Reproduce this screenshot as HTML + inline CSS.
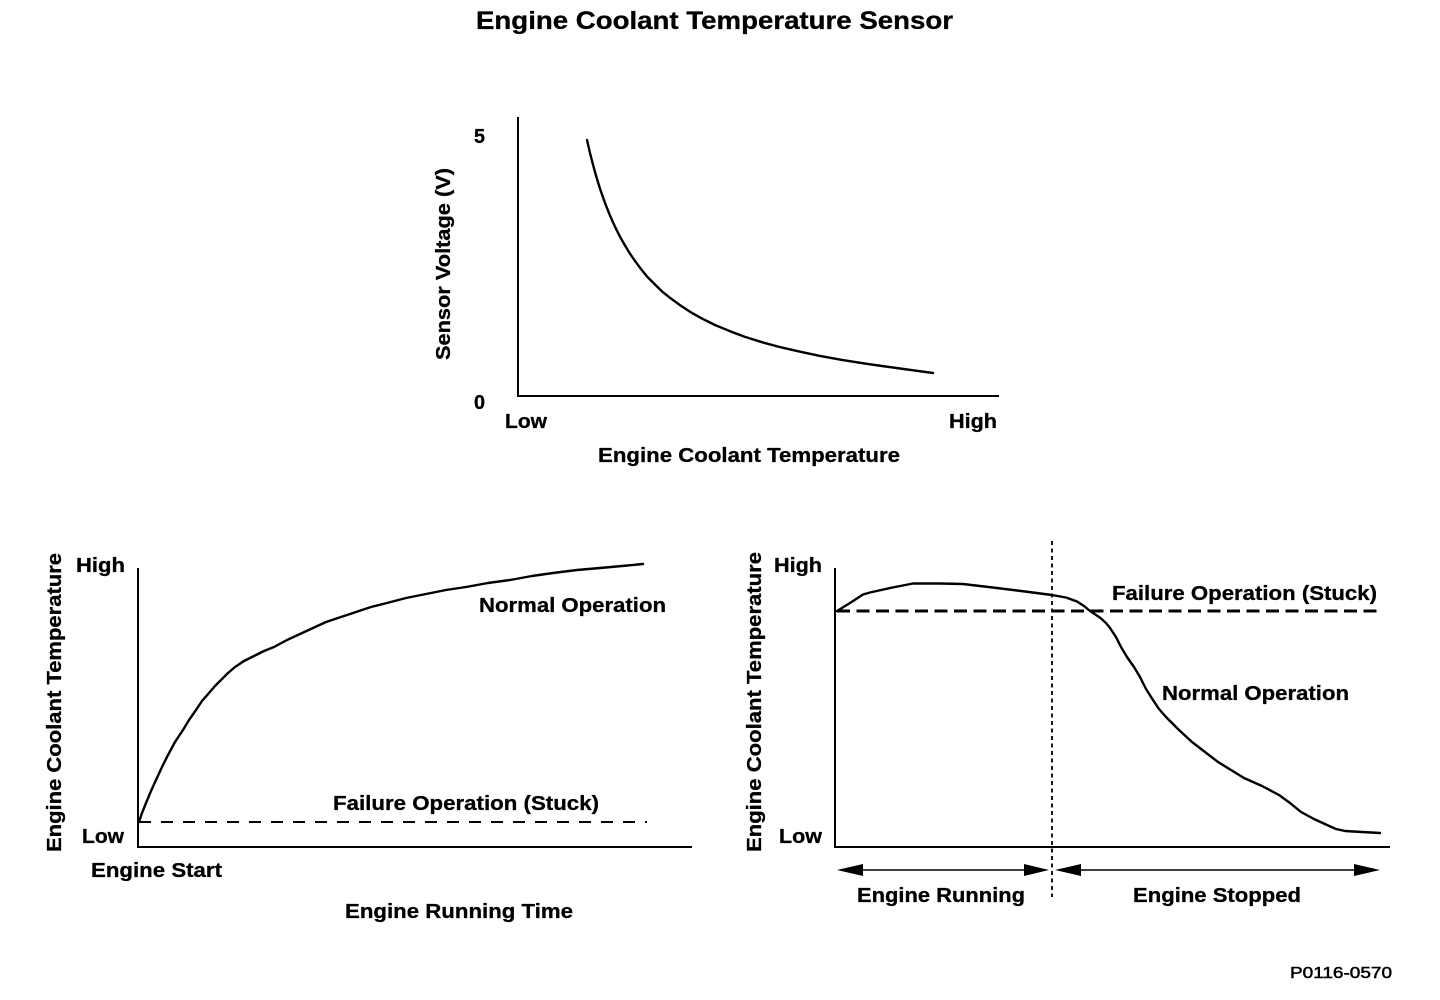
<!DOCTYPE html>
<html>
<head>
<meta charset="utf-8">
<style>
  html, body { margin: 0; padding: 0; background: #ffffff; }
  body { width: 1440px; height: 1000px; overflow: hidden; }
  svg { display: block; }
  text { font-family: "Liberation Sans", Arial, Helvetica, sans-serif; fill: #000; stroke: #000; stroke-width: 0.3px; }
  .b { font-weight: bold; font-size: 20.5px; }
  .t { font-weight: bold; font-size: 25px; }
  .c { font-weight: normal; font-size: 16px; stroke-width: 0.5px; }
</style>
</head>
<body>
<svg width="1440" height="1000" viewBox="0 0 1440 1000" xmlns="http://www.w3.org/2000/svg">
  <rect x="0" y="0" width="1440" height="1000" fill="#fff"/>

  <!-- Title -->
  <text class="t" x="476" y="29" textLength="477" lengthAdjust="spacingAndGlyphs">Engine Coolant Temperature Sensor</text>

  <!-- ============ TOP CHART ============ -->
  <line x1="518" y1="117" x2="518" y2="397" stroke="#000" stroke-width="2"/>
  <line x1="517" y1="396" x2="999" y2="396" stroke="#000" stroke-width="2"/>
  <polyline fill="none" stroke="#000" stroke-width="2.4" stroke-linejoin="round" stroke-linecap="round"
    points="587,140 588.5,146.5 590,153 592.5,162.8 595,172.1 597.5,180.6 600,188.6 603,197.3 606,205.6 609.5,214.3 613,222.4 616.5,229.8 620,236.7 625,245.5 630,253.7 635,261 640,267.7 647,276.5 655,284.5 662,291.4 670,297.8 680,305.1 690,311.8 702,318.6 715,325 730,331.2 745,336.9 762,342.2 780,347.1 800,351.7 820,355.9 842,359.9 865,363.6 882,366 900,368.5 916,370.7 933,373"/>
  <text class="b" x="474" y="143" textLength="11" lengthAdjust="spacingAndGlyphs">5</text>
  <text class="b" x="474" y="409" textLength="11" lengthAdjust="spacingAndGlyphs">0</text>
  <text class="b" x="505" y="428" textLength="42" lengthAdjust="spacingAndGlyphs">Low</text>
  <text class="b" x="949" y="428" textLength="48" lengthAdjust="spacingAndGlyphs">High</text>
  <text class="b" x="598" y="462" textLength="302" lengthAdjust="spacingAndGlyphs">Engine Coolant Temperature</text>
  <text class="b" transform="translate(450,360) rotate(-90)" x="0" y="0" textLength="192" lengthAdjust="spacingAndGlyphs">Sensor Voltage (V)</text>

  <!-- ============ BOTTOM LEFT CHART ============ -->
  <line x1="138" y1="568" x2="138" y2="848" stroke="#000" stroke-width="2"/>
  <line x1="137" y1="847" x2="692" y2="847" stroke="#000" stroke-width="2"/>
  <line x1="139" y1="822" x2="647" y2="822" stroke="#000" stroke-width="2" stroke-dasharray="12 10"/>
  <polyline fill="none" stroke="#000" stroke-width="2.4" stroke-linejoin="round" stroke-linecap="round"
    points="139,822 142,813 146,803 151,791 156,780 162,767 168,755 175,742 183,730 189,720 196,710 202,701 209,693 215,686 222,679 228,673 235,667 244,661 254,656 264,651 274,647 287,640 300,634 313,628 326,622 341,617 356,612 371,607 387,603 406,598 426,594 446,590 466,587 488,583 510,580 532,576 553,573 577,570 600,568 622,566 643,564"/>
  <text class="b" x="76" y="572" textLength="49" lengthAdjust="spacingAndGlyphs">High</text>
  <text class="b" x="82" y="843" textLength="42" lengthAdjust="spacingAndGlyphs">Low</text>
  <text class="b" x="479" y="612" textLength="187" lengthAdjust="spacingAndGlyphs">Normal Operation</text>
  <text class="b" x="333" y="810" textLength="266" lengthAdjust="spacingAndGlyphs">Failure Operation (Stuck)</text>
  <text class="b" x="91" y="877" textLength="131" lengthAdjust="spacingAndGlyphs">Engine Start</text>
  <text class="b" x="345" y="918" textLength="228" lengthAdjust="spacingAndGlyphs">Engine Running Time</text>
  <text class="b" transform="translate(61,852) rotate(-90)" x="0" y="0" textLength="299" lengthAdjust="spacingAndGlyphs">Engine Coolant Temperature</text>

  <!-- ============ BOTTOM RIGHT CHART ============ -->
  <line x1="835" y1="568" x2="835" y2="848" stroke="#000" stroke-width="2"/>
  <line x1="834" y1="847" x2="1390" y2="847" stroke="#000" stroke-width="2"/>
  <line x1="837" y1="611" x2="1382" y2="611" stroke="#000" stroke-width="3" stroke-dasharray="13 6.5"/>
  <line x1="1052" y1="541" x2="1052" y2="897" stroke="#000" stroke-width="1.8" stroke-dasharray="4 3.5"/>
  <polyline fill="none" stroke="#000" stroke-width="2.4" stroke-linejoin="round" stroke-linecap="round"
    points="837,611 850,603 863,594.5 870,592.5 890,588 913,583.5 940,583.5 963,584 997,588 1025,591.5 1052,595 1066,597.5 1077,601.5 1084,606 1090,611 1100.5,618 1106,623 1110,628 1116,637 1121,647 1127,657 1134,667 1140,677 1146,689 1153,700 1159,709 1166,717 1179,730 1192,742 1205,752 1218,762 1231,770 1244,778 1262,786 1279,795 1290,803 1301,812 1314,819 1327,825 1336,829 1345,831 1362,832 1380,833"/>

  <!-- arrows -->
  <line x1="845" y1="870" x2="1044" y2="870" stroke="#000" stroke-width="1.5"/>
  <polygon points="837,870 863,864 863,876" fill="#000"/>
  <polygon points="1049,870 1024,864 1024,876" fill="#000"/>
  <line x1="1060" y1="870" x2="1372" y2="870" stroke="#000" stroke-width="1.5"/>
  <polygon points="1055,870 1081,864 1081,876" fill="#000"/>
  <polygon points="1380,870 1354,864 1354,876" fill="#000"/>

  <text class="b" x="774" y="572" textLength="48" lengthAdjust="spacingAndGlyphs">High</text>
  <text class="b" x="779" y="843" textLength="43" lengthAdjust="spacingAndGlyphs">Low</text>
  <text class="b" x="1112" y="600" textLength="265" lengthAdjust="spacingAndGlyphs">Failure Operation (Stuck)</text>
  <text class="b" x="1162" y="700" textLength="187" lengthAdjust="spacingAndGlyphs">Normal Operation</text>
  <text class="b" x="857" y="902" textLength="168" lengthAdjust="spacingAndGlyphs">Engine Running</text>
  <text class="b" x="1133" y="902" textLength="168" lengthAdjust="spacingAndGlyphs">Engine Stopped</text>
  <text class="b" transform="translate(761,852) rotate(-90)" x="0" y="0" textLength="300" lengthAdjust="spacingAndGlyphs">Engine Coolant Temperature</text>

  <!-- code -->
  <text class="c" x="1290" y="978" textLength="102" lengthAdjust="spacingAndGlyphs">P0116-0570</text>
</svg>
</body>
</html>
